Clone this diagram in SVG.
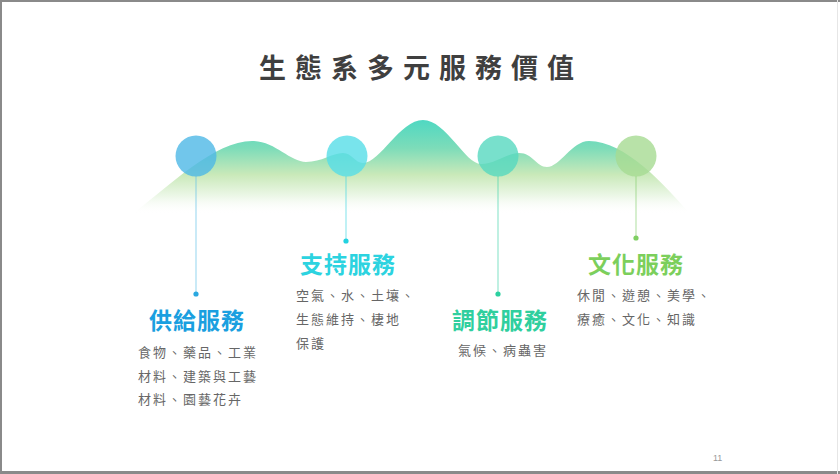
<svg xmlns="http://www.w3.org/2000/svg" width="840" height="474" viewBox="0 0 840 474">
<style>
.title{font-family:"Noto Sans CJK TC","Noto Sans CJK SC",sans-serif;font-size:27px;font-weight:700;fill:#3f3f3f;letter-spacing:9px}
.head{font-family:"Noto Sans CJK TC","Noto Sans CJK SC",sans-serif;font-size:23px;font-weight:700;text-anchor:middle;letter-spacing:1px}
.body{font-family:"Noto Sans CJK TC","Noto Sans CJK SC",sans-serif;font-size:13px;fill:#666;letter-spacing:2px}
.stem{stroke-width:1.2;opacity:0.55}
.pg{font-family:"Liberation Sans",sans-serif;font-size:9px;fill:#999}
</style>
<defs>
<linearGradient id="mtn" x1="0" y1="120" x2="0" y2="214" gradientUnits="userSpaceOnUse">
<stop offset="0" stop-color="#4fd8c2"/>
<stop offset="0.3" stop-color="#7ddcb9"/>
<stop offset="0.58" stop-color="#c9e9b9"/>
<stop offset="0.82" stop-color="#eef8ea"/>
<stop offset="1" stop-color="#ffffff" stop-opacity="0"/>
</linearGradient>
</defs>
<rect x="0" y="0" width="840" height="474" fill="#fff"/>
<rect x="0" y="0" width="840" height="2" fill="#8a8a8a"/>
<rect x="0" y="0" width="2" height="474" fill="#8a8a8a"/>
<rect x="0" y="471" width="840" height="3" fill="#8a8a8a"/>
<rect x="837" y="0" width="1" height="474" fill="#e6e6e6"/>

<text class="title" x="259" y="78">生態系多元服務價值</text>

<path id="mountains" fill="url(#mtn)" d="M134,213 C170,185 215,141 252,141 C275,141 290,162 306,162 C322,162 332,153 343,153 C352,153 355,163 363,163 C380,163 400,120 423,120 C446,120 465,164 481,164 C495,164 507,153 519,153 C533,153 536,167 547,167 C560,167 572,141 589,141 C625,141 665,185 689,213 Z"/>

<g id="connectors">
<line class="stem" x1="196" y1="176" x2="196" y2="294" stroke="#5ec0e8"/>
<line class="stem" x1="346" y1="176" x2="346" y2="241" stroke="#40d6e2"/>
<line class="stem" x1="498" y1="176" x2="498" y2="294" stroke="#40d4aa"/>
<line class="stem" x1="636" y1="176" x2="636" y2="238" stroke="#86cf70"/>
<circle cx="196" cy="294" r="2.6" fill="#2aa8e0"/>
<circle cx="346" cy="241" r="2.6" fill="#22d2e0"/>
<circle cx="498" cy="294" r="2.6" fill="#2cd0a0"/>
<circle cx="636" cy="238" r="2.6" fill="#7fcf62"/>
</g>

<g id="node-supply">
<circle cx="196" cy="156" r="20.5" fill="#4db8e6" opacity="0.8"/>
<text class="head" x="197" y="329" fill="#1a9fe0">供給服務</text>
<text class="body" x="138" y="357">食物、藥品、工業</text>
<text class="body" x="138" y="381">材料、建築與工藝</text>
<text class="body" x="138" y="404">材料、園藝花卉</text>
</g>

<g id="node-support">
<circle cx="347" cy="156" r="20.5" fill="#56dde7" opacity="0.8"/>
<text class="head" x="348" y="273" fill="#2cd3e0">支持服務</text>
<text class="body" x="296" y="300">空氣、水、土壤、</text>
<text class="body" x="296" y="324">生態維持、棲地</text>
<text class="body" x="296" y="348">保護</text>
</g>

<g id="node-regulate">
<circle cx="498" cy="156" r="20.5" fill="#56d8bf" opacity="0.8"/>
<text class="head" x="500" y="329" fill="#30cf9e">調節服務</text>
<text class="body" x="458" y="355">氣候、病蟲害</text>
</g>

<g id="node-culture">
<circle cx="636" cy="156" r="20.5" fill="#a6db92" opacity="0.8"/>
<text class="head" x="636" y="273" fill="#7ccf5c">文化服務</text>
<text class="body" x="577" y="300">休閒、遊憩、美學、</text>
<text class="body" x="577" y="324">療癒、文化、知識</text>
</g>

<text class="pg" x="713" y="461">11</text>
</svg>
